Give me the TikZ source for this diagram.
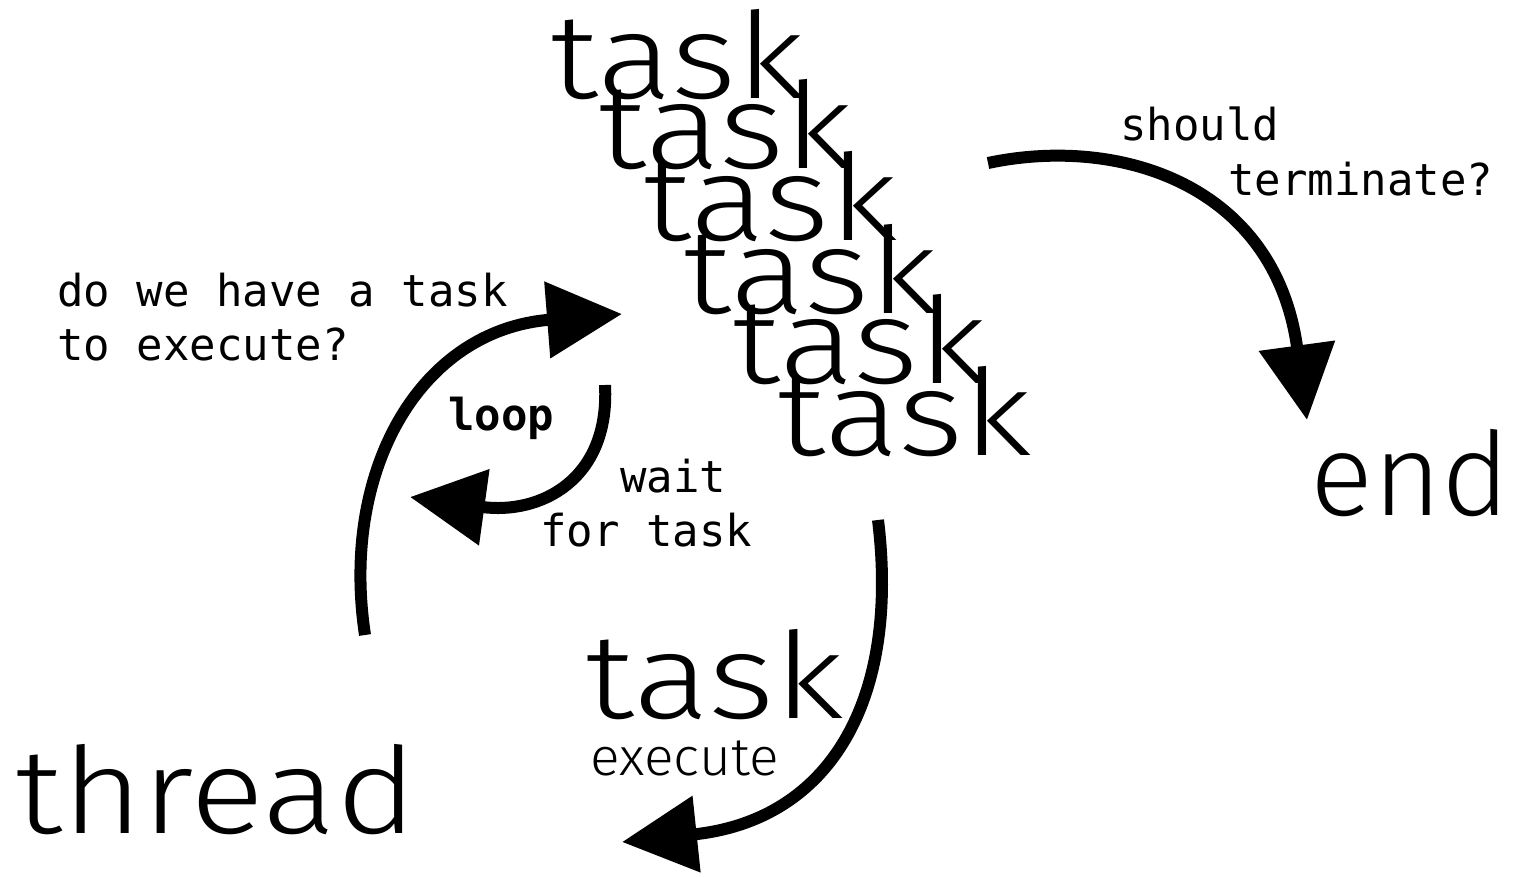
\documentclass[tikz,border=0pt]{standalone}
\usepackage{graphicx}
\usepackage{fontspec}
\setmainfont{Fira Sans Light}
\newfontfamily\monofont{DejaVu Sans Mono}
\usetikzlibrary{arrows.meta}
\newcommand{\widetext}[2]{\scalebox{#1}[1]{#2}}
\begin{document}
\begin{tikzpicture}[x=1pt,y=-1pt,
  big/.style={font=\fontsize{120}{120}\selectfont, inner sep=0pt, anchor=base west},
  endfont/.style={font=\fontsize{116}{116}\selectfont, inner sep=0pt, anchor=base west},
  mid/.style={font=\fontsize{53}{53}\selectfont, inner sep=0pt, anchor=base west},
  small/.style={font=\monofont\fontsize{44}{44}\selectfont, inner sep=0pt, anchor=base west},
  smallbold/.style={font=\monofont\bfseries\fontsize{44}{44}\selectfont, inner sep=0pt, anchor=base west},
  conn/.style={line width=12pt, -{Triangle[length=75pt,width=74pt]}}]
\useasboundingbox (0,0) rectangle (1517,876);
% stacked tasks
\node[big] (t1) at (550,98) {\widetext{1.17}{task}};
\node[big] (t2) at (598,168) {\widetext{1.17}{task}};
\node[big] (t3) at (643,240) {\widetext{1.17}{task}};
\node[big] (t4) at (683,313) {\widetext{1.17}{task}};
\node[big] (t5) at (732,383) {\widetext{1.17}{task}};
\node[big] (t6) at (777,455) {\widetext{1.17}{task}};
\node[big] (tb) at (585,718) {\widetext{1.19}{task}};
\node[big] (thread) at (15,833) {\widetext{1.15}{thread}};
\node[endfont] (end) at (1310,515) {\widetext{1.01}{end}};
\node[mid] (exec) at (590,775) {\widetext{1.04}{execute}};
% labels
\node[small] (q1) at (57,306) {do we have a task};
\node[small] (q2) at (57,360) {to execute?};
\node[smallbold] (loop) at (448,430) {loop};
\node[small] (w1) at (620,492) {wait};
\node[small] (w2) at (540,546) {for task};
\node[small] (s1) at (1120,140) {should};
\node[small] (s2) at (1228,195) {terminate?};
% connector end points
\coordinate (a1s) at (365,635);
\coordinate (a1e) at (622,314);
\coordinate (a2s) at (605,385);
\coordinate (a2e) at (410,497);
\coordinate (a3s) at (878,520);
\coordinate (a3e) at (622,842);
\coordinate (a4s) at (988,163);
\coordinate (a4e) at (1307,420);
\draw[conn] (a1s) .. controls (340,470) and (420,330) .. (a1e);
\draw[conn] (a2s) .. controls (610,480) and (540,515) .. (a2e);
\draw[conn] (a3s) .. controls (900,700) and (830,820) .. (a3e);
\draw[conn] (a4s) .. controls (1120,135) and (1275,185) .. (a4e);
\end{tikzpicture}
\end{document}
